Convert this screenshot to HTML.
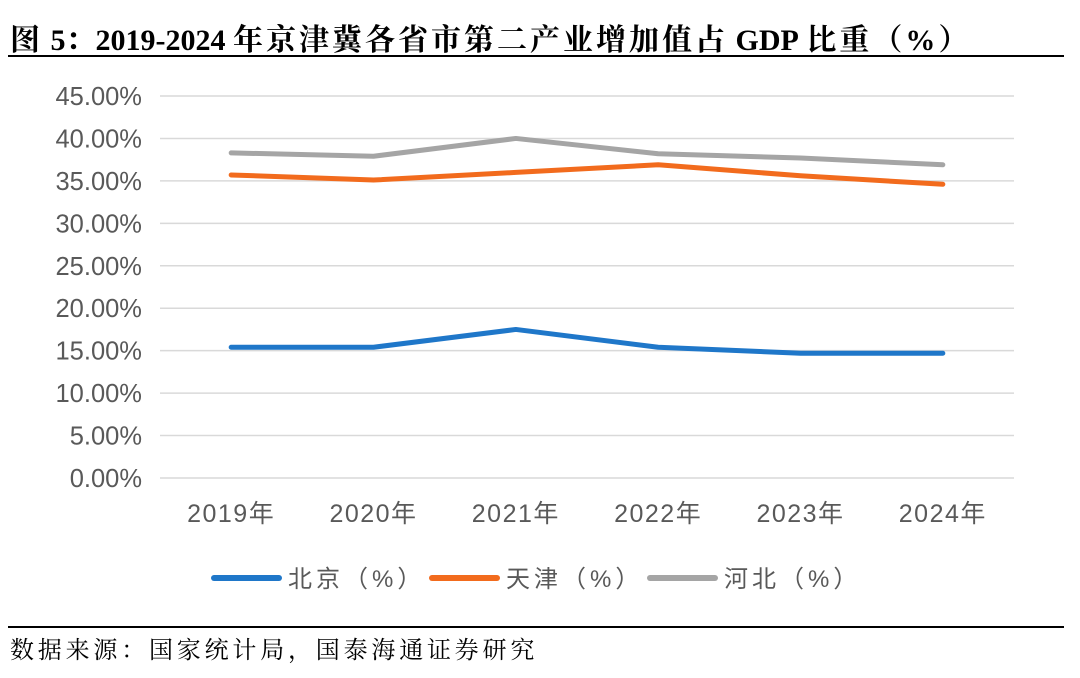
<!DOCTYPE html>
<html><head><meta charset="utf-8"><style>
body{margin:0;background:#fff;width:1080px;height:678px;overflow:hidden;position:relative;font-family:"Liberation Sans","Noto Sans CJK SC",sans-serif}
#title{position:absolute;left:10px;top:15px;font:bold 30px "Liberation Serif","Noto Serif CJK SC",serif;color:#000;white-space:nowrap}
#title .c{letter-spacing:3px}
.rule{position:absolute;left:8px;width:1056px;height:1.5px;background:#000}
#src{position:absolute;left:10px;top:630px;font:24px "Liberation Serif","Noto Serif CJK SC",serif;letter-spacing:3.8px;color:#000;white-space:nowrap}
</style></head><body>
<div id="title"><span class="c">图</span> 5：2019-2024&nbsp;<span class="c">年京津冀各省市第二产业增加值占</span>&nbsp;GDP&nbsp;<span class="c">比重（%）</span></div>
<div class="rule" style="top:55px"></div>
<svg id="chart" width="1080" height="678" style="position:absolute;left:0;top:0"></svg>
<div class="rule" style="top:626px"></div>
<div id="src">数据来源：国家统计局，国泰海通证券研究</div>
<script>
const categories=["2019年","2020年","2021年","2022年","2023年","2024年"];
const beijing=[15.4,15.4,17.5,15.4,14.7,14.7];
const tianjin=[35.7,35.1,36.0,36.9,35.6,34.6];
const hebei=[38.3,37.9,40.0,38.2,37.7,36.9];
const yTicks=[0,5,10,15,20,25,30,35,40,45];
const seriesNames=["北京（%）","天津（%）","河北（%）"];
const NS="http://www.w3.org/2000/svg";
const svg=document.getElementById('chart');
const x0=160,x1=1014,yTop=96,yBot=478,yMax=45;
const xs=i=>x0+(x1-x0)/categories.length*(i+0.5);
const ys=v=>yBot-(v/yMax)*(yBot-yTop);
function mk(t,a){const e=document.createElementNS(NS,t);for(const k in a)e.setAttribute(k,a[k]);svg.appendChild(e);return e;}
yTicks.forEach(v=>{
 const g=mk('line',{x1:x0,x2:x1,y1:ys(v),y2:ys(v),stroke:'#d9d9d9','stroke-width':1.5});
 
 
 const t=mk('text',{x:142,y:ys(v)+9,'text-anchor':'end','font-size':25.5,fill:'#595959','font-family':'Liberation Sans, sans-serif'});
 t.textContent=v.toFixed(2)+'%';
 
 
});
categories.forEach((c,i)=>{
 const t=mk('text',{x:xs(i),y:522,'text-anchor':'middle','font-size':25,'letter-spacing':1.5,fill:'#595959','font-family':'Liberation Sans, Noto Sans CJK SC, sans-serif'});
 t.textContent=c;
 
 
});
const data=[beijing,tianjin,hebei],colors=['#1f77c9','#f26b1d','#a5a5a5'],names=['series-beijing','series-tianjin','series-hebei'];
data.forEach((arr,s)=>{
 const p=mk('polyline',{points:arr.map((v,i)=>xs(i)+','+ys(v)).join(' '),fill:'none',stroke:colors[s],'stroke-width':5,'stroke-linejoin':'round','stroke-linecap':'round'});
 
 
});
const lx=[214,432,650];
seriesNames.forEach((n,s)=>{
 const l=mk('line',{x1:lx[s],x2:lx[s]+65,y1:578,y2:578,stroke:colors[s],'stroke-width':6,'stroke-linecap':'round'});
 
 
 const t=mk('text',{x:lx[s]+74,y:587,'font-size':24,'letter-spacing':4,fill:'#595959','font-family':'Liberation Sans, Noto Sans CJK SC, sans-serif'});
 t.textContent=n;
 
 
});
</script>
</body></html>
